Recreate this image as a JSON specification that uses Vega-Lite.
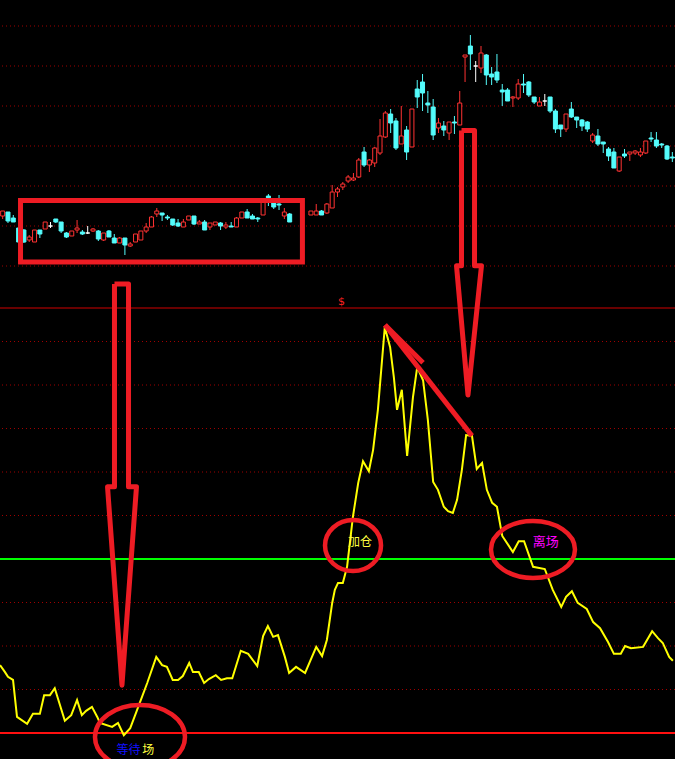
{
  "$schema": "https://vega.github.io/schema/vega-lite/v6.json",
  "width": 675,
  "height": 759,
  "autosize": {"type": "none"},
  "padding": 0,
  "background": "#000000",
  "config": {"view": {"stroke": null}, "scale": {"continuousPadding": 0}},
  "datasets": {
    "candles": [
      {"i":0,"o":10.50,"h":10.55,"l":10.47,"c":10.55},
      {"i":1,"o":10.54,"h":10.54,"l":10.43,"c":10.45},
      {"i":2,"o":10.48,"h":10.51,"l":10.44,"c":10.44},
      {"i":3,"o":10.38,"h":10.38,"l":10.24,"c":10.24},
      {"i":4,"o":10.36,"h":10.37,"l":10.23,"c":10.24},
      {"i":5,"o":10.26,"h":10.31,"l":10.24,"c":10.29},
      {"i":6,"o":10.24,"h":10.36,"l":10.24,"c":10.36},
      {"i":7,"o":10.36,"h":10.36,"l":10.28,"c":10.32},
      {"i":8,"o":10.37,"h":10.44,"l":10.37,"c":10.44},
      {"i":9,"o":10.40,"h":10.44,"l":10.38,"c":10.40},
      {"i":10,"o":10.47,"h":10.47,"l":10.43,"c":10.44},
      {"i":11,"o":10.44,"h":10.44,"l":10.33,"c":10.35},
      {"i":12,"o":10.33,"h":10.34,"l":10.28,"c":10.29},
      {"i":13,"o":10.30,"h":10.35,"l":10.30,"c":10.35},
      {"i":14,"o":10.36,"h":10.46,"l":10.33,"c":10.38},
      {"i":15,"o":10.34,"h":10.36,"l":10.31,"c":10.32},
      {"i":16,"o":10.33,"h":10.40,"l":10.32,"c":10.33},
      {"i":17,"o":10.35,"h":10.38,"l":10.34,"c":10.37},
      {"i":18,"o":10.35,"h":10.36,"l":10.25,"c":10.27},
      {"i":19,"o":10.26,"h":10.33,"l":10.25,"c":10.33},
      {"i":20,"o":10.35,"h":10.36,"l":10.29,"c":10.29},
      {"i":21,"o":10.28,"h":10.32,"l":10.23,"c":10.23},
      {"i":22,"o":10.23,"h":10.29,"l":10.23,"c":10.28},
      {"i":23,"o":10.28,"h":10.28,"l":10.11,"c":10.21},
      {"i":24,"o":10.20,"h":10.24,"l":10.19,"c":10.22},
      {"i":25,"o":10.24,"h":10.32,"l":10.24,"c":10.32},
      {"i":26,"o":10.26,"h":10.35,"l":10.26,"c":10.35},
      {"i":27,"o":10.35,"h":10.43,"l":10.33,"c":10.39},
      {"i":28,"o":10.39,"h":10.50,"l":10.39,"c":10.49},
      {"i":29,"o":10.52,"h":10.58,"l":10.49,"c":10.55},
      {"i":30,"o":10.53,"h":10.53,"l":10.45,"c":10.51},
      {"i":31,"o":10.49,"h":10.51,"l":10.46,"c":10.48},
      {"i":32,"o":10.47,"h":10.47,"l":10.40,"c":10.41},
      {"i":33,"o":10.43,"h":10.47,"l":10.39,"c":10.40},
      {"i":34,"o":10.39,"h":10.47,"l":10.39,"c":10.44},
      {"i":35,"o":10.46,"h":10.50,"l":10.46,"c":10.50},
      {"i":36,"o":10.50,"h":10.50,"l":10.41,"c":10.42},
      {"i":37,"o":10.42,"h":10.46,"l":10.42,"c":10.44},
      {"i":38,"o":10.44,"h":10.46,"l":10.36,"c":10.36},
      {"i":39,"o":10.39,"h":10.43,"l":10.36,"c":10.43},
      {"i":40,"o":10.41,"h":10.44,"l":10.41,"c":10.44},
      {"i":41,"o":10.43,"h":10.44,"l":10.36,"c":10.40},
      {"i":42,"o":10.39,"h":10.44,"l":10.37,"c":10.41},
      {"i":43,"o":10.40,"h":10.44,"l":10.39,"c":10.39},
      {"i":44,"o":10.39,"h":10.49,"l":10.39,"c":10.48},
      {"i":45,"o":10.48,"h":10.54,"l":10.48,"c":10.54},
      {"i":46,"o":10.54,"h":10.57,"l":10.48,"c":10.48},
      {"i":47,"o":10.50,"h":10.52,"l":10.47,"c":10.47},
      {"i":48,"o":10.48,"h":10.49,"l":10.44,"c":10.47},
      {"i":49,"o":10.51,"h":10.67,"l":10.51,"c":10.66},
      {"i":50,"o":10.70,"h":10.72,"l":10.60,"c":10.68},
      {"i":51,"o":10.63,"h":10.63,"l":10.57,"c":10.59},
      {"i":52,"o":10.62,"h":10.71,"l":10.56,"c":10.61},
      {"i":53,"o":10.50,"h":10.58,"l":10.47,"c":10.54},
      {"i":54,"o":10.52,"h":10.53,"l":10.44,"c":10.44},
      {"i":58,"o":10.51,"h":10.55,"l":10.51,"c":10.55},
      {"i":59,"o":10.51,"h":10.62,"l":10.51,"c":10.55},
      {"i":60,"o":10.55,"h":10.56,"l":10.51,"c":10.51},
      {"i":61,"o":10.53,"h":10.63,"l":10.52,"c":10.62},
      {"i":62,"o":10.58,"h":10.81,"l":10.58,"c":10.74},
      {"i":63,"o":10.74,"h":10.79,"l":10.69,"c":10.77},
      {"i":64,"o":10.79,"h":10.84,"l":10.76,"c":10.82},
      {"i":65,"o":10.85,"h":10.91,"l":10.83,"c":10.89},
      {"i":66,"o":10.86,"h":10.93,"l":10.85,"c":10.88},
      {"i":67,"o":10.89,"h":11.08,"l":10.88,"c":11.06},
      {"i":68,"o":11.14,"h":11.19,"l":10.99,"c":11.01},
      {"i":69,"o":11.01,"h":11.07,"l":10.94,"c":11.06},
      {"i":70,"o":11.03,"h":11.19,"l":10.99,"c":11.18},
      {"i":71,"o":11.13,"h":11.47,"l":11.11,"c":11.30},
      {"i":72,"o":11.29,"h":11.55,"l":11.28,"c":11.53},
      {"i":73,"o":11.52,"h":11.57,"l":11.33,"c":11.43},
      {"i":74,"o":11.45,"h":11.48,"l":11.16,"c":11.18},
      {"i":75,"o":11.22,"h":11.60,"l":11.22,"c":11.30},
      {"i":76,"o":11.36,"h":11.40,"l":11.06,"c":11.14},
      {"i":77,"o":11.19,"h":11.57,"l":11.19,"c":11.57},
      {"i":78,"o":11.77,"h":11.86,"l":11.58,"c":11.69},
      {"i":79,"o":11.84,"h":11.92,"l":11.55,"c":11.73},
      {"i":80,"o":11.63,"h":11.75,"l":11.53,"c":11.61},
      {"i":81,"o":11.59,"h":11.67,"l":11.26,"c":11.31},
      {"i":82,"o":11.38,"h":11.48,"l":11.33,"c":11.43},
      {"i":83,"o":11.40,"h":11.45,"l":11.30,"c":11.36},
      {"i":84,"o":11.33,"h":11.44,"l":11.26,"c":11.44},
      {"i":85,"o":11.44,"h":11.50,"l":11.32,"c":11.43},
      {"i":86,"o":11.41,"h":11.75,"l":11.41,"c":11.63},
      {"i":87,"o":12.09,"h":12.11,"l":11.84,"c":12.11},
      {"i":88,"o":12.20,"h":12.31,"l":11.96,"c":12.12},
      {"i":89,"o":12.00,"h":12.05,"l":11.84,"c":12.00},
      {"i":90,"o":11.98,"h":12.20,"l":11.93,"c":12.13},
      {"i":91,"o":12.11,"h":12.12,"l":11.81,"c":11.91},
      {"i":92,"o":11.92,"h":11.99,"l":11.81,"c":11.89},
      {"i":93,"o":11.94,"h":12.12,"l":11.83,"c":11.86},
      {"i":94,"o":11.76,"h":11.82,"l":11.60,"c":11.74},
      {"i":95,"o":11.76,"h":11.78,"l":11.65,"c":11.65},
      {"i":96,"o":11.68,"h":11.70,"l":11.59,"c":11.69},
      {"i":97,"o":11.68,"h":11.87,"l":11.66,"c":11.82},
      {"i":98,"o":11.82,"h":11.92,"l":11.73,"c":11.81},
      {"i":99,"o":11.84,"h":11.85,"l":11.69,"c":11.71},
      {"i":100,"o":11.69,"h":11.69,"l":11.62,"c":11.64},
      {"i":101,"o":11.60,"h":11.69,"l":11.60,"c":11.64},
      {"i":102,"o":11.65,"h":11.72,"l":11.60,"c":11.65},
      {"i":103,"o":11.69,"h":11.69,"l":11.53,"c":11.55},
      {"i":104,"o":11.55,"h":11.57,"l":11.33,"c":11.37},
      {"i":105,"o":11.41,"h":11.41,"l":11.29,"c":11.37},
      {"i":106,"o":11.37,"h":11.52,"l":11.34,"c":11.52},
      {"i":107,"o":11.57,"h":11.64,"l":11.48,"c":11.49},
      {"i":108,"o":11.49,"h":11.49,"l":11.38,"c":11.46},
      {"i":109,"o":11.46,"h":11.47,"l":11.35,"c":11.40},
      {"i":110,"o":11.44,"h":11.45,"l":11.34,"c":11.37},
      {"i":111,"o":11.25,"h":11.33,"l":11.23,"c":11.31},
      {"i":112,"o":11.30,"h":11.37,"l":11.20,"c":11.22},
      {"i":113,"o":11.24,"h":11.24,"l":11.13,"c":11.22},
      {"i":114,"o":11.17,"h":11.19,"l":11.05,"c":11.10},
      {"i":115,"o":11.14,"h":11.18,"l":10.98,"c":10.98},
      {"i":116,"o":10.95,"h":11.09,"l":10.94,"c":11.09},
      {"i":117,"o":11.12,"h":11.17,"l":11.08,"c":11.10},
      {"i":118,"o":11.12,"h":11.14,"l":11.05,"c":11.14},
      {"i":119,"o":11.13,"h":11.16,"l":11.11,"c":11.15},
      {"i":120,"o":11.11,"h":11.18,"l":11.09,"c":11.14},
      {"i":121,"o":11.13,"h":11.25,"l":11.12,"c":11.25},
      {"i":122,"o":11.28,"h":11.34,"l":11.24,"c":11.27},
      {"i":123,"o":11.26,"h":11.34,"l":11.18,"c":11.20},
      {"i":124,"o":11.22,"h":11.23,"l":11.18,"c":11.21},
      {"i":125,"o":11.20,"h":11.21,"l":11.06,"c":11.07},
      {"i":126,"o":11.09,"h":11.14,"l":11.04,"c":11.08}
    ],
    "ind": [
      {"i":-0.5,"v":15.6},{"i":0.44,"v":14.0},{"i":1.0,"v":12.9},{"i":1.95,"v":12.2},{"i":2.7,"v":3.7},
      {"i":4.6,"v":2.1},{"i":5.7,"v":4.4},{"i":7.0,"v":4.4},{"i":7.8,"v":8.7},{"i":8.9,"v":8.7},
      {"i":9.8,"v":10.3},{"i":11.7,"v":2.8},{"i":12.9,"v":4.1},{"i":14.0,"v":7.6},{"i":14.9,"v":4.1},
      {"i":15.7,"v":5.1},{"i":16.8,"v":6.0},{"i":17.8,"v":3.7},{"i":18.3,"v":2.3},{"i":20.6,"v":1.4},
      {"i":21.7,"v":2.3},{"i":22.8,"v":-0.5},{"i":24.0,"v":1.1},{"i":25.3,"v":5.3},{"i":27.2,"v":11.5},
      {"i":28.9,"v":17.5},{"i":30.0,"v":15.6},{"i":30.9,"v":15.2},{"i":32.0,"v":12.2},{"i":33.0,"v":12.2},
      {"i":33.9,"v":13.1},{"i":35.1,"v":16.1},{"i":35.8,"v":14.0},{"i":36.9,"v":14.0},{"i":37.9,"v":11.5},
      {"i":38.8,"v":12.4},{"i":40.1,"v":13.3},{"i":41.1,"v":12.2},{"i":42.2,"v":12.6},{"i":43.2,"v":12.6},
      {"i":44.8,"v":18.9},{"i":46.2,"v":18.2},{"i":47.9,"v":15.4},{"i":49.0,"v":22.3},{"i":49.9,"v":24.6},
      {"i":50.9,"v":22.1},{"i":51.8,"v":22.5},{"i":53.1,"v":17.5},{"i":53.9,"v":13.8},{"i":55.2,"v":15.2},
      {"i":56.9,"v":13.8},{"i":59.0,"v":19.8},{"i":60.1,"v":17.7},{"i":61.0,"v":21.4},{"i":62.0,"v":29.9},
      {"i":62.5,"v":32.9},{"i":63.1,"v":34.5},{"i":64.0,"v":34.5},{"i":64.8,"v":38.2},{"i":65.9,"v":49.7},
      {"i":66.9,"v":57.5},{"i":67.8,"v":62.5},{"i":68.9,"v":60.2},{"i":69.7,"v":65.1},{"i":70.6,"v":74.3},
      {"i":71.9,"v":93.3},{"i":72.9,"v":88.7},{"i":73.6,"v":81.8},{"i":74.2,"v":74.3},{"i":75.1,"v":78.9},
      {"i":76.1,"v":63.7},{"i":77.2,"v":77.2},{"i":78.0,"v":84.1},{"i":79.1,"v":81.1},{"i":80.0,"v":72.0},
      {"i":81.0,"v":57.7},{"i":81.9,"v":55.9},{"i":83.0,"v":52.0},{"i":83.8,"v":51.0},{"i":84.7,"v":50.6},
      {"i":85.5,"v":53.6},{"i":86.4,"v":60.5},{"i":87.2,"v":68.5},{"i":88.3,"v":68.3},{"i":89.2,"v":60.7},
      {"i":90.2,"v":62.1},{"i":91.1,"v":55.9},{"i":92.1,"v":52.9},{"i":93.0,"v":52.0},{"i":94.0,"v":45.3},
      {"i":96.0,"v":41.6},{"i":97.1,"v":44.1},{"i":98.1,"v":44.1},{"i":99.8,"v":38.2},{"i":102.0,"v":37.7},
      {"i":103.5,"v":32.9},{"i":105.1,"v":29.0},{"i":106.0,"v":31.3},{"i":107.1,"v":32.6},{"i":108.2,"v":29.9},
      {"i":109.9,"v":28.5},{"i":111.1,"v":25.5},{"i":112.4,"v":24.1},{"i":113.9,"v":20.9},{"i":115.0,"v":18.2},
      {"i":116.3,"v":18.2},{"i":117.1,"v":20.0},{"i":118.2,"v":19.5},{"i":120.5,"v":19.8},{"i":122.2,"v":23.4},
      {"i":123.3,"v":21.8},{"i":124.2,"v":20.7},{"i":125.4,"v":17.5},{"i":126.1,"v":16.6}
    ]
  },
  "layer": [
    {
      "data": {"values": [{"p":10.0},{"p":10.4},{"p":10.8},{"p":11.2},{"p":11.6},{"p":12.0},{"p":12.4}]},
      "mark": {"type": "rule", "color": "#a00000", "strokeWidth": 1, "strokeDash": [1, 3]},
      "encoding": {"y": {"field": "p", "type": "quantitative", "scale": {"domain": [5.07, 12.66], "nice": false, "zero": false}, "axis": null}}
    },
    {
      "data": {"values": [{"v":10},{"v":20},{"v":30},{"v":50},{"v":60},{"v":70},{"v":80},{"v":90}]},
      "mark": {"type": "rule", "color": "#a00000", "strokeWidth": 1, "strokeDash": [1, 3]},
      "encoding": {"y": {"field": "v", "type": "quantitative", "scale": {"domain": [-5.977, 168.51], "nice": false, "zero": false}, "axis": null}}
    },
    {
      "data": {"values": [{"v":97.7}]},
      "mark": {"type": "rule", "color": "#d00000", "strokeWidth": 1.2},
      "encoding": {"y": {"field": "v", "type": "quantitative", "scale": {"domain": [-5.977, 168.51], "nice": false, "zero": false}, "axis": null}}
    },
    {
      "data": {"values": [{"v":40}]},
      "mark": {"type": "rule", "color": "#00ff00", "strokeWidth": 2},
      "encoding": {"y": {"field": "v", "type": "quantitative", "scale": {"domain": [-5.977, 168.51], "nice": false, "zero": false}, "axis": null}}
    },
    {
      "data": {"values": [{"v":0}]},
      "mark": {"type": "rule", "color": "#ff1010", "strokeWidth": 2},
      "encoding": {"y": {"field": "v", "type": "quantitative", "scale": {"domain": [-5.977, 168.51], "nice": false, "zero": false}, "axis": null}}
    },
    {
      "data": {"name": "candles"},
      "mark": {"type": "rule", "strokeWidth": 1},
      "encoding": {
        "x": {"field": "i", "type": "quantitative", "scale": {"domain": [-0.5, 126.5], "nice": false, "zero": false, "padding": 0}, "axis": null},
        "y": {"field": "h", "type": "quantitative", "scale": {"domain": [5.07, 12.66], "nice": false, "zero": false}, "axis": null},
        "y2": {"field": "l"},
        "stroke": {"condition": [{"test": "datum.c > datum.o", "value": "#ff3232"}, {"test": "datum.c < datum.o", "value": "#54fcfc"}], "value": "#ffffff"}
      }
    },
    {
      "data": {"name": "candles"},
      "mark": {"type": "bar", "size": 4, "strokeWidth": 1},
      "encoding": {
        "x": {"field": "i", "type": "quantitative", "scale": {"domain": [-0.5, 126.5], "nice": false, "zero": false, "padding": 0}, "axis": null},
        "y": {"field": "o", "type": "quantitative", "scale": {"domain": [5.07, 12.66], "nice": false, "zero": false}, "axis": null},
        "y2": {"field": "c"},
        "fill": {"condition": [{"test": "datum.c > datum.o", "value": "#000000"}, {"test": "datum.c < datum.o", "value": "#54fcfc"}], "value": "#ffffff"},
        "stroke": {"condition": [{"test": "datum.c > datum.o", "value": "#ff3232"}, {"test": "datum.c < datum.o", "value": "#54fcfc"}], "value": "#ffffff"}
      }
    },
    {
      "data": {"name": "ind"},
      "mark": {"type": "line", "color": "#ffff00", "strokeWidth": 2},
      "encoding": {
        "x": {"field": "i", "type": "quantitative", "scale": {"domain": [-0.5, 126.5], "nice": false, "zero": false, "padding": 0}, "axis": null},
        "y": {"field": "v", "type": "quantitative", "scale": {"domain": [-5.977, 168.51], "nice": false, "zero": false}, "axis": null}
      }
    },
    {
      "data": {"values": [{"i": 3.36, "i2": 56.4, "p": 10.655, "p2": 10.04}]},
      "mark": {"type": "rect", "fillOpacity": 0, "stroke": "#ee1c24", "strokeWidth": 5},
      "encoding": {
        "x": {"field": "i", "type": "quantitative", "scale": {"domain": [-0.5, 126.5], "nice": false, "zero": false, "padding": 0}, "axis": null},
        "x2": {"field": "i2"},
        "y": {"field": "p", "type": "quantitative", "scale": {"domain": [5.07, 12.66], "nice": false, "zero": false}, "axis": null},
        "y2": {"field": "p2"}
      }
    },
    {
      "data": {"values": [
        {"a":"A","k":0,"i":21.04,"v":103.2},{"a":"A","k":1,"i":23.68,"v":103.2},{"a":"A","k":2,"i":23.68,"v":56.6},
        {"a":"A","k":3,"i":25.18,"v":56.6},{"a":"A","k":4,"i":22.45,"v":11.0},{"a":"A","k":5,"i":19.73,"v":56.6},
        {"a":"A","k":6,"i":21.04,"v":56.6},{"a":"A","k":7,"i":21.04,"v":103.2},
        {"a":"B","k":0,"i":86.33,"v":138.5},{"a":"B","k":1,"i":88.78,"v":138.5},{"a":"B","k":2,"i":88.78,"v":107.4},
        {"a":"B","k":3,"i":90.09,"v":107.4},{"a":"B","k":4,"i":87.55,"v":77.7},{"a":"B","k":5,"i":85.39,"v":107.4},
        {"a":"B","k":6,"i":86.33,"v":107.4},{"a":"B","k":7,"i":86.33,"v":138.5},
        {"a":"C","k":0,"i":71.94,"v":93.8},{"a":"C","k":1,"i":79.09,"v":85.1},
        {"a":"D","k":0,"i":71.94,"v":93.8},{"a":"D","k":1,"i":88.3,"v":68.3}
      ]},
      "mark": {"type": "line", "color": "#ee1c24", "strokeWidth": 5, "strokeJoin": "round"},
      "encoding": {
        "x": {"field": "i", "type": "quantitative", "scale": {"domain": [-0.5, 126.5], "nice": false, "zero": false, "padding": 0}, "axis": null},
        "y": {"field": "v", "type": "quantitative", "scale": {"domain": [-5.977, 168.51], "nice": false, "zero": false}, "axis": null},
        "detail": {"field": "a", "type": "nominal"},
        "order": {"field": "k", "type": "quantitative"}
      }
    },
    {
      "data": {"values": [{"i": 25.84, "v": -0.92}]},
      "mark": {"type": "point", "filled": false, "opacity": 1, "stroke": "#ee1c24", "strokeWidth": 4.5, "size": 8100,
        "shape": "M1,0C1,0.393,0.5523,0.711,0,0.711C-0.5523,0.711,-1,0.393,-1,0C-1,-0.393,-0.5523,-0.711,0,-0.711C0.5523,-0.711,1,-0.393,1,0Z"},
      "encoding": {
        "x": {"field": "i", "type": "quantitative", "scale": {"domain": [-0.5, 126.5], "nice": false, "zero": false, "padding": 0}, "axis": null},
        "y": {"field": "v", "type": "quantitative", "scale": {"domain": [-5.977, 168.51], "nice": false, "zero": false}, "axis": null}
      }
    },
    {
      "data": {"values": [{"i": 65.92, "v": 43.1}]},
      "mark": {"type": "point", "filled": false, "opacity": 1, "stroke": "#ee1c24", "strokeWidth": 4.5, "size": 3136,
        "shape": "M1,0C1,0.503,0.5523,0.91,0,0.91C-0.5523,0.91,-1,0.503,-1,0C-1,-0.503,-0.5523,-0.91,0,-0.91C0.5523,-0.91,1,-0.503,1,0Z"},
      "encoding": {
        "x": {"field": "i", "type": "quantitative", "scale": {"domain": [-0.5, 126.5], "nice": false, "zero": false, "padding": 0}, "axis": null},
        "y": {"field": "v", "type": "quantitative", "scale": {"domain": [-5.977, 168.51], "nice": false, "zero": false}, "axis": null}
      }
    },
    {
      "data": {"values": [{"i": 99.78, "v": 42.2}]},
      "mark": {"type": "point", "filled": false, "opacity": 1, "stroke": "#ee1c24", "strokeWidth": 4.5, "size": 7056,
        "shape": "M1,0C1,0.375,0.5523,0.679,0,0.679C-0.5523,0.679,-1,0.375,-1,0C-1,-0.375,-0.5523,-0.679,0,-0.679C0.5523,-0.679,1,-0.375,1,0Z"},
      "encoding": {
        "x": {"field": "i", "type": "quantitative", "scale": {"domain": [-0.5, 126.5], "nice": false, "zero": false, "padding": 0}, "axis": null},
        "y": {"field": "v", "type": "quantitative", "scale": {"domain": [-5.977, 168.51], "nice": false, "zero": false}, "axis": null}
      }
    },
    {
      "data": {"values": [{"i": 63.75, "v": 99.1, "t": "$"}]},
      "mark": {"type": "text", "color": "#ff2020", "fontSize": 11, "font": "DejaVu Sans", "align": "center", "baseline": "middle"},
      "encoding": {
        "x": {"field": "i", "type": "quantitative", "scale": {"domain": [-0.5, 126.5], "nice": false, "zero": false, "padding": 0}, "axis": null},
        "y": {"field": "v", "type": "quantitative", "scale": {"domain": [-5.977, 168.51], "nice": false, "zero": false}, "axis": null},
        "text": {"field": "t"}
      }
    },
    {
      "data": {"values": [{"i": 67.24, "v": 43.9, "t": "加仓"}, {"i": 27.4, "v": -3.9, "t": "场"}]},
      "mark": {"type": "text", "color": "#ffff40", "fontSize": 12, "font": "Noto Sans CJK SC", "align": "center", "baseline": "middle"},
      "encoding": {
        "x": {"field": "i", "type": "quantitative", "scale": {"domain": [-0.5, 126.5], "nice": false, "zero": false, "padding": 0}, "axis": null},
        "y": {"field": "v", "type": "quantitative", "scale": {"domain": [-5.977, 168.51], "nice": false, "zero": false}, "axis": null},
        "text": {"field": "t"}
      }
    },
    {
      "data": {"values": [{"i": 102.2, "v": 43.9, "t": "离场"}]},
      "mark": {"type": "text", "color": "#ff00ff", "fontSize": 13, "font": "Noto Sans CJK SC", "align": "center", "baseline": "middle"},
      "encoding": {
        "x": {"field": "i", "type": "quantitative", "scale": {"domain": [-0.5, 126.5], "nice": false, "zero": false, "padding": 0}, "axis": null},
        "y": {"field": "v", "type": "quantitative", "scale": {"domain": [-5.977, 168.51], "nice": false, "zero": false}, "axis": null},
        "text": {"field": "t"}
      }
    },
    {
      "data": {"values": [{"i": 23.7, "v": -3.9, "t": "等待"}]},
      "mark": {"type": "text", "color": "#1010ff", "fontSize": 12, "font": "Noto Sans CJK SC", "align": "center", "baseline": "middle"},
      "encoding": {
        "x": {"field": "i", "type": "quantitative", "scale": {"domain": [-0.5, 126.5], "nice": false, "zero": false, "padding": 0}, "axis": null},
        "y": {"field": "v", "type": "quantitative", "scale": {"domain": [-5.977, 168.51], "nice": false, "zero": false}, "axis": null},
        "text": {"field": "t"}
      }
    }
  ],
  "resolve": {"scale": {"y": "independent"}}
}
